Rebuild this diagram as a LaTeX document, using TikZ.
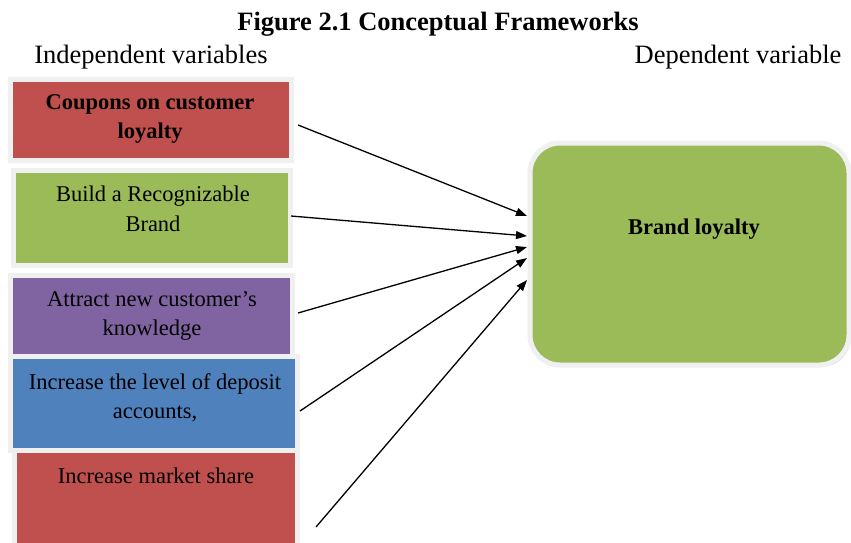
\documentclass[tikz,border=0pt]{standalone}
\usepackage{fontspec}
\setmainfont{Liberation Serif}
\usetikzlibrary{arrows.meta,shadows}
\definecolor{boxred}{HTML}{C0504D}
\definecolor{boxgreen}{HTML}{9BBB59}
\definecolor{boxpurple}{HTML}{8064A2}
\definecolor{boxblue}{HTML}{4F81BD}
\definecolor{rim}{HTML}{F0F0F0}
\begin{document}
\begin{tikzpicture}[x=1pt,y=-1pt,
  varbox/.style={draw=rim, line width=5pt, inner sep=0pt,
    drop shadow={shadow xshift=2pt, shadow yshift=-2pt, fill=black!35, opacity=0.5}},
  boxtext/.style={font=\fontsize{22.5}{29.5}\selectfont, align=center, inner sep=0pt},
  head/.style={font=\fontsize{26.5}{30}\selectfont, inner sep=0pt},
  link/.style={line width=1.3pt, -{Triangle[length=11pt,width=8pt]}}]
\useasboundingbox (0,0) rectangle (851,542);
\fill[white] (0,0) rectangle (851,542);

% headings
\node[head, font=\fontsize{26.5}{30}\selectfont\bfseries] (title) at (438,24.5) {Figure 2.1 Conceptual Frameworks};
\node[head] (indep) at (151,57.5) {Independent variables};
\node[head] (dep) at (738,57.5) {Dependent variable};

% independent variable boxes
\node[varbox, fill=boxred, minimum width=281pt, minimum height=80.5pt] (b1) at (151,119.75) {};
\node[varbox, fill=boxgreen, minimum width=277pt, minimum height=95pt] (b2) at (152,218) {};
\node[varbox, fill=boxpurple, minimum width=282pt, minimum height=81pt] (b3) at (151.5,316) {};
\node[varbox, fill=boxblue, minimum width=287pt, minimum height=94pt] (b4) at (154,403.5) {};
\node[varbox, fill=boxred, minimum width=283pt, minimum height=110pt] (b5) at (156,505) {};

\node[boxtext, font=\fontsize{22.5}{29.5}\selectfont\bfseries] (t1) at (150,119) {Coupons on customer\\loyalty};
\node[boxtext] (t2) at (153,209) {Build a Recognizable\\Brand};
\node[boxtext] (t3) at (152,316) {Attract new customer’s\\knowledge};
\node[boxtext] (t4) at (155,398) {Increase the level of deposit\\accounts,};
\node[boxtext] (t5) at (156,476) {Increase market share};

% dependent variable box
\node[varbox, fill=boxgreen, rounded corners=30pt, minimum width=319pt, minimum height=222pt] (dv) at (689.5,254) {};
\node[boxtext, font=\fontsize{22.5}{29.5}\selectfont\bfseries] (dvt) at (694,229) {Brand loyalty};

% connector ends
\coordinate (s1) at (298,125);
\coordinate (s2) at (291,216);
\coordinate (s3) at (298,313);
\coordinate (s4) at (300,411);
\coordinate (s5) at (316,527);
\coordinate (e1) at (527,216);
\coordinate (e2) at (527,236);
\coordinate (e3) at (527,247);
\coordinate (e4) at (527,258);
\coordinate (e5) at (527,280);

\draw[link] (s1) -- (e1);
\draw[link] (s2) -- (e2);
\draw[link] (s3) -- (e3);
\draw[link] (s4) -- (e4);
\draw[link] (s5) -- (e5);
\end{tikzpicture}
\end{document}
